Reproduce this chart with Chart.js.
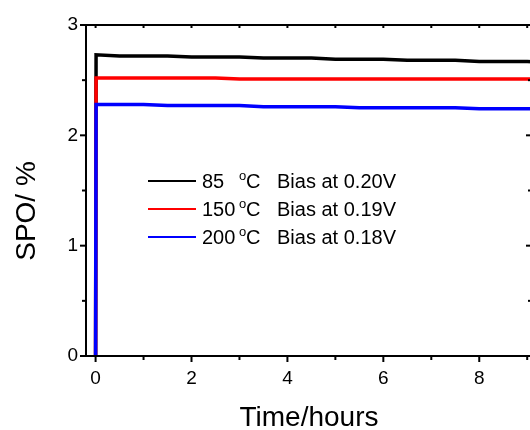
<!DOCTYPE html>
<html>
<head>
<meta charset="utf-8">
<script src="https://cdn.jsdelivr.net/npm/chart.js@4.4.0/dist/chart.umd.min.js"></script>
<style>
html, body { margin: 0; padding: 0; overflow: hidden; background: #fff; }
#wrap { width: 540px; height: 430px; }
</style>
</head>
<body>
<div id="wrap"><canvas id="myChart"></canvas></div>
<script>
// time in hours, SPO in %
const hours   = [0, 0.01, 0.5, 1, 1.5, 2, 2.5, 3, 3.5, 4, 4.5, 5, 5.5, 6, 6.5, 7, 7.5, 8, 8.5, 9, 9.5];
const spo85   = [0, 2.73, 2.72, 2.72, 2.72, 2.71, 2.71, 2.71, 2.70, 2.70, 2.70, 2.69, 2.69, 2.69, 2.68, 2.68, 2.68, 2.67, 2.67, 2.67, 2.66];
const spo150  = [0, 2.52, 2.52, 2.52, 2.52, 2.52, 2.52, 2.51, 2.51, 2.51, 2.51, 2.51, 2.51, 2.51, 2.51, 2.51, 2.51, 2.51, 2.51, 2.51, 2.51];
const spo200  = [0, 2.28, 2.28, 2.28, 2.27, 2.27, 2.27, 2.27, 2.26, 2.26, 2.26, 2.26, 2.25, 2.25, 2.25, 2.25, 2.25, 2.24, 2.24, 2.24, 2.24];

const temps = ['85', '150', '200'];
const biasLabels = ['Bias at 0.20V', 'Bias at 0.19V', 'Bias at 0.18V'];
const colors = ['#000000', '#ff0000', '#0000ff'];

const xTicks = [0, 2, 4, 6, 8];
const xMinor = [1, 3, 5, 7, 9];
const yTicks = [0, 1, 2, 3];
const yMinor = [0.5, 1.5, 2.5];

const FONT = "'Liberation Sans', Arial, sans-serif";

function pts(ys) {
    return hours.map((h, i) => ({x: h, y: ys[i]}));
}

function seg(ctx, x1, y1, x2, y2) {
    ctx.beginPath();
    ctx.moveTo(x1, y1);
    ctx.lineTo(x2, y2);
    ctx.stroke();
}

const framePlugin = {
    id: 'frame',
    afterDraw(chart) {
        const {ctx, chartArea: a, scales: {x, y}} = chart;
        ctx.save();
        ctx.strokeStyle = '#000';
        ctx.lineWidth = 2;
        ctx.strokeRect(a.left, a.top, a.right - a.left, a.bottom - a.top);

        // x ticks: outward at bottom, inward at top
        xTicks.concat(xMinor).forEach(v => {
            const px = x.getPixelForValue(v);
            const len = xTicks.includes(v) ? 6 : 4;
            seg(ctx, px, a.bottom, px, a.bottom + len);
            seg(ctx, px, a.top, px, a.top + 3);
        });
        // y ticks: outward at left, inward at right
        yTicks.concat(yMinor).forEach(v => {
            const py = y.getPixelForValue(v);
            const len = yTicks.includes(v) ? 6 : 4;
            seg(ctx, a.left - len, py, a.left, py);
            seg(ctx, a.right, py, a.right - len, py);
        });

        // axis titles
        ctx.fillStyle = '#000';
        ctx.font = '28px ' + FONT;
        ctx.textAlign = 'center';
        ctx.textBaseline = 'alphabetic';
        ctx.fillText('Time/hours', (a.left + a.right) / 2, 426);
        ctx.save();
        ctx.translate(35, 211);
        ctx.rotate(-Math.PI / 2);
        ctx.fillText('SPO/ %', 0, 0);
        ctx.restore();

        // legend
        const lx = 148, ly = 181, gap = 28;
        temps.forEach((t, i) => {
            const yy = ly + i * gap;
            ctx.strokeStyle = colors[i];
            ctx.lineWidth = 2;
            seg(ctx, lx, yy, lx + 48, yy);
            ctx.fillStyle = '#000';
            ctx.textAlign = 'left';
            ctx.font = '20px ' + FONT;
            ctx.fillText(t, 202, yy + 7);
            ctx.font = '13px ' + FONT;
            ctx.fillText('o', 239, yy - 1);
            ctx.font = '20px ' + FONT;
            ctx.fillText('C', 246, yy + 7);
            ctx.fillText(biasLabels[i], 277, yy + 7);
        });
        ctx.restore();
    }
};

const ctx = document.getElementById('myChart');

new Chart(ctx, {
    type: 'line',
    data: {
        datasets: [
            {label: temps[0], data: pts(spo85), borderColor: colors[0], order: 3},
            {label: temps[1], data: pts(spo150), borderColor: colors[1], order: 2},
            {label: temps[2], data: pts(spo200), borderColor: colors[2], order: 1}
        ]
    },
    options: {
        responsive: true,
        maintainAspectRatio: false,
        animation: false,
        events: [],
        layout: {padding: {top: 25, right: 8, left: 0, bottom: 0}},
        elements: {
            point: {radius: 0},
            line: {borderWidth: 3.5, tension: 0}
        },
        plugins: {
            legend: {display: false},
            tooltip: {enabled: false}
        },
        scales: {
            x: {
                type: 'linear',
                min: -0.2,
                max: 9.1,
                grid: {display: false, drawTicks: false},
                border: {display: false},
                ticks: {color: '#000', font: {family: FONT, size: 19}, padding: 11},
                afterBuildTicks: s => { s.ticks = xTicks.map(v => ({value: v})); },
                afterFit: s => { s.height = 74; }
            },
            y: {
                type: 'linear',
                min: 0,
                max: 3,
                grid: {display: false, drawTicks: false},
                border: {display: false},
                ticks: {color: '#000', font: {family: FONT, size: 19}, padding: 8},
                afterBuildTicks: s => { s.ticks = yTicks.map(v => ({value: v})); },
                afterFit: s => { s.width = 86; }
            }
        }
    },
    plugins: [framePlugin]
});
</script>
</body>
</html>
